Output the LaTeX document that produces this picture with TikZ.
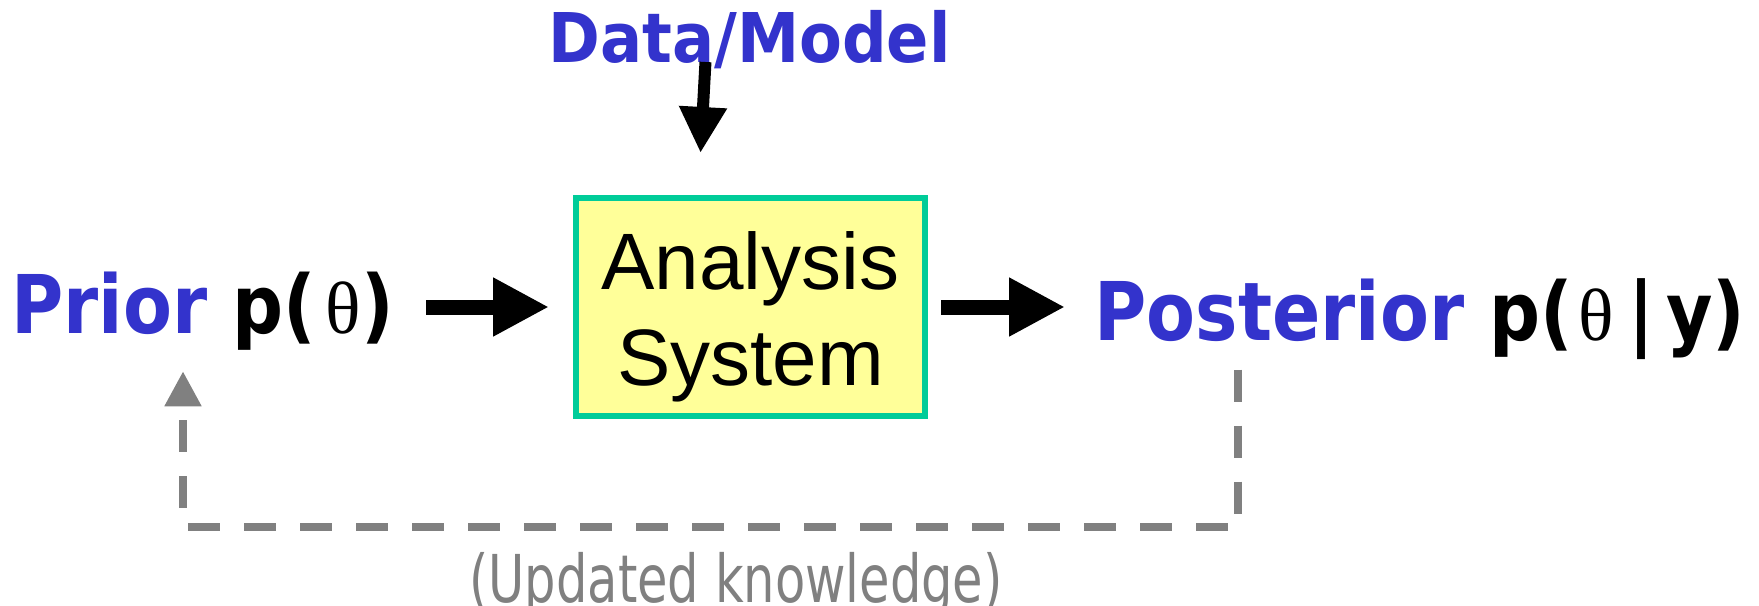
\documentclass[tikz,border=0pt]{standalone}
\usepackage{fontspec}
\usetikzlibrary{arrows.meta}

\definecolor{titleblue}{RGB}{51,51,204}
\definecolor{boxgreen}{RGB}{0,204,153}
\definecolor{boxyellow}{RGB}{255,255,153}
\definecolor{loopgray}{RGB}{128,128,128}

\newfontfamily\headfont[FakeStretch=0.88]{DejaVu Sans}
\newfontfamily\datafont[FakeStretch=0.91]{DejaVu Sans}
\newfontfamily\boxfont{Liberation Sans}
\newfontfamily\greekfont{Liberation Serif}
\newfontfamily\notefont[FakeStretch=0.75]{DejaVu Sans}

\newcommand{\thetasym}{{\greekfont\mdseries\fontsize{37pt}{40pt}\selectfont θ}}

\tikzset{
    headtext/.style = {inner sep = 0pt, anchor = base west,
        font = \headfont\bfseries\fontsize{40.5pt}{48pt}\selectfont},
    systembox/.style = {draw = boxgreen, fill = boxyellow, line width = 3pt,
        minimum width = 174.5pt, minimum height = 109pt, inner sep = 0pt,
        text height = 85pt, text depth = 7pt,
        align = center, font = \boxfont\fontsize{40pt}{48pt}\selectfont},
    flowarrow/.style = {line width = 7.5pt, -{Triangle[length = 28pt, width = 27.5pt]}},
    dataarrow/.style = {line width = 6pt, -{Triangle[length = 23pt, width = 22.5pt]}},
    feedback/.style = {draw = loopgray, line width = 4pt, dash pattern = on 16pt off 12pt,
        -{Triangle[length = 17.5pt, width = 17.5pt]}}
}

\begin{document}
\begin{tikzpicture}[x = 0.5pt, y = -0.5pt]
    \useasboundingbox (0, 0) rectangle (1759, 605);

    \node (box) [systembox] at (750.5, 307) {Analysis\\System};

    \node (prior) [headtext] at (11, 333)
        {\textcolor{titleblue}{Prior} p(\hspace{5pt}\thetasym)};
    \node (posterior) [headtext] at (1094, 340)
        {\textcolor{titleblue}{Posterior} p(\hspace{3pt}\thetasym\hspace{7pt}|\hspace{6pt}y)};
    \node (data) [headtext, font = \datafont\bfseries\fontsize{34.3pt}{40pt}\selectfont,
        text = titleblue] at (548, 62) {Data/Model};

    \draw [flowarrow, shorten <= 16pt, shorten >= 12pt] (box.west -| prior.east) -- (box.west);
    \draw [flowarrow, shorten <= 6.5pt, shorten >= 14.5pt] (box.east) -- (box.east -| posterior.west);
    \draw [dataarrow] ([xshift = -22pt]data.base) -- ([xshift = -25pt, yshift = 21pt]box.north);

    % feedback loop
    \coordinate (loopR) at (1238, 527);
    \coordinate (loopL) at (183, 527);
    \draw [feedback] ([yshift = -5pt]posterior.south -| loopR) -- (loopR) -- (loopL)
        -- ([yshift = -10.5pt]prior.south -| loopL);

    \node (note) [inner sep = 0pt, anchor = base, text = loopgray,
        font = \notefont\fontsize{33pt}{38pt}\selectfont] at (736, 602) {(Updated knowledge)};
\end{tikzpicture}
\end{document}
